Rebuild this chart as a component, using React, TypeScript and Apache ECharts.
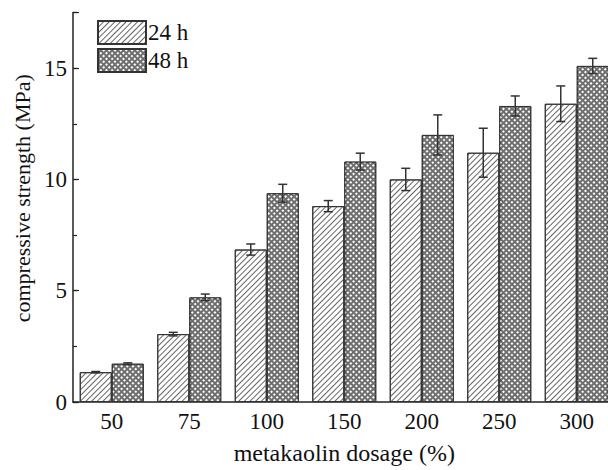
import React, { useEffect, useRef } from "react";
import * as echarts from "echarts";

const categories = ["50", "75", "100", "150", "200", "250", "300"];
const strength24 = [1.34, 3.05, 6.85, 8.8, 10.0, 11.2, 13.4];
const strength48 = [1.72, 4.7, 9.38, 10.8, 12.0, 13.3, 15.1];
const err24 = [0.03, 0.08, 0.25, 0.25, 0.5, 1.1, 0.8];
const err48 = [0.04, 0.15, 0.4, 0.38, 0.9, 0.45, 0.34];

const FONT = "'Liberation Serif', 'Times New Roman', serif";

export default function App() {
  const ref = useRef<HTMLDivElement>(null);
  useEffect(() => {
    if (!ref.current) return;
    const chart = echarts.init(ref.current, undefined, { renderer: "svg" });

    const decal24 = {
      symbol: "rect",
      symbolSize: 1,
      dashArrayX: [1, 0],
      dashArrayY: [1, 2.3],
      rotation: -Math.PI / 4,
      color: "#666666",
      backgroundColor: "#ffffff",
    };
    const decal48 = {
      symbol: "rect",
      symbolSize: 1,
      dashArrayX: [2, 1.2],
      dashArrayY: [2, 1.2],
      rotation: Math.PI / 4,
      color: "#ffffff",
      backgroundColor: "#6e6e6e",
    };

    const errSeries = (vals: number[], errs: number[], seriesIndex: number) => ({
      type: "custom",
      silent: true,
      z: 10,
      data: vals.map((v, i) => [i, v - errs[i], v + errs[i]]),
      renderItem: (params: any, api: any) => {
        const idx = api.value(0);
        const lo = api.coord([idx, api.value(1)]);
        const hi = api.coord([idx, api.value(2)]);
        const barW = 32;
        const offset = seriesIndex === 0 ? -barW / 2 : barW / 2;
        const x = lo[0] + offset;
        const cap = 4.5;
        const style = { stroke: "#333", lineWidth: 1.5 };
        return {
          type: "group",
          children: [
            { type: "line", shape: { x1: x, y1: lo[1], x2: x, y2: hi[1] }, style },
            { type: "line", shape: { x1: x - cap, y1: hi[1], x2: x + cap, y2: hi[1] }, style },
            { type: "line", shape: { x1: x - cap, y1: lo[1], x2: x + cap, y2: lo[1] }, style },
          ],
        };
      },
    });

    chart.setOption({
      animation: false,
      textStyle: { fontFamily: FONT },
      legend: {
        left: 92,
        top: 15,
        orient: "vertical",
        icon: "rect",
        itemWidth: 48,
        itemHeight: 23,
        itemGap: 3,
        textStyle: { fontFamily: FONT, fontSize: 23, color: "#111", padding: [0, 0, 0, -3] },
        data: ["24 h", "48 h"],
      },
      grid: { left: 73, right: 4.5, top: 12.5, bottom: 62 },
      xAxis: {
        type: "category",
        data: categories,
        name: "metakaolin dosage (%)",
        nameLocation: "middle",
        nameGap: 39,
        nameTextStyle: { fontFamily: FONT, fontSize: 24, color: "#111" },
        axisLine: { lineStyle: { color: "#222", width: 1.5 } },
        axisTick: { show: false },
        axisLabel: { fontFamily: FONT, fontSize: 23, color: "#111", margin: 8 },
      },
      yAxis: [
        {
          type: "value",
          min: 0,
          max: 17.5,
          interval: 2.5,
          name: "compressive strength (MPa)",
          nameLocation: "middle",
          nameGap: 37,
          nameTextStyle: { fontFamily: FONT, fontSize: 22, color: "#111", padding: [0, 0, 0, 18] },
          axisLine: { show: true, lineStyle: { color: "#222", width: 1.5 } },
          axisTick: { show: true, inside: true, length: 4, lineStyle: { color: "#222", width: 1.2 } },
          axisLabel: {
            fontFamily: FONT,
            fontSize: 23,
            color: "#111",
            margin: 6,
            formatter: (v: number) => (v % 5 === 0 ? String(v) : ""),
          },
          splitLine: { show: false },
        },
        {
          type: "value",
          min: 0,
          max: 17.5,
          interval: 5,
          position: "left",
          axisLine: { show: false },
          axisTick: { show: true, inside: true, length: 6, lineStyle: { color: "#222", width: 1.2 } },
          axisLabel: { show: false },
          splitLine: { show: false },
        },
      ],
      series: [
        {
          name: "24 h",
          type: "bar",
          data: strength24,
          barWidth: 32,
          barGap: "0%",
          itemStyle: { color: "#ffffff", borderColor: "#333", borderWidth: 1, decal: decal24 },
        },
        {
          name: "48 h",
          type: "bar",
          data: strength48,
          barWidth: 32,
          barGap: "0%",
          itemStyle: { color: "#6e6e6e", borderColor: "#333", borderWidth: 1, decal: decal48 },
        },
        errSeries(strength24, err24, 0),
        errSeries(strength48, err48, 1),
      ],
    });
    return () => chart.dispose();
  }, []);

  return (
    <div style={{ position: "fixed", left: 0, top: 0, width: 608, height: 470, overflow: "hidden", background: "#fff" }}>
      <div ref={ref} style={{ width: 620, height: 470 }} />
    </div>
  );
}
